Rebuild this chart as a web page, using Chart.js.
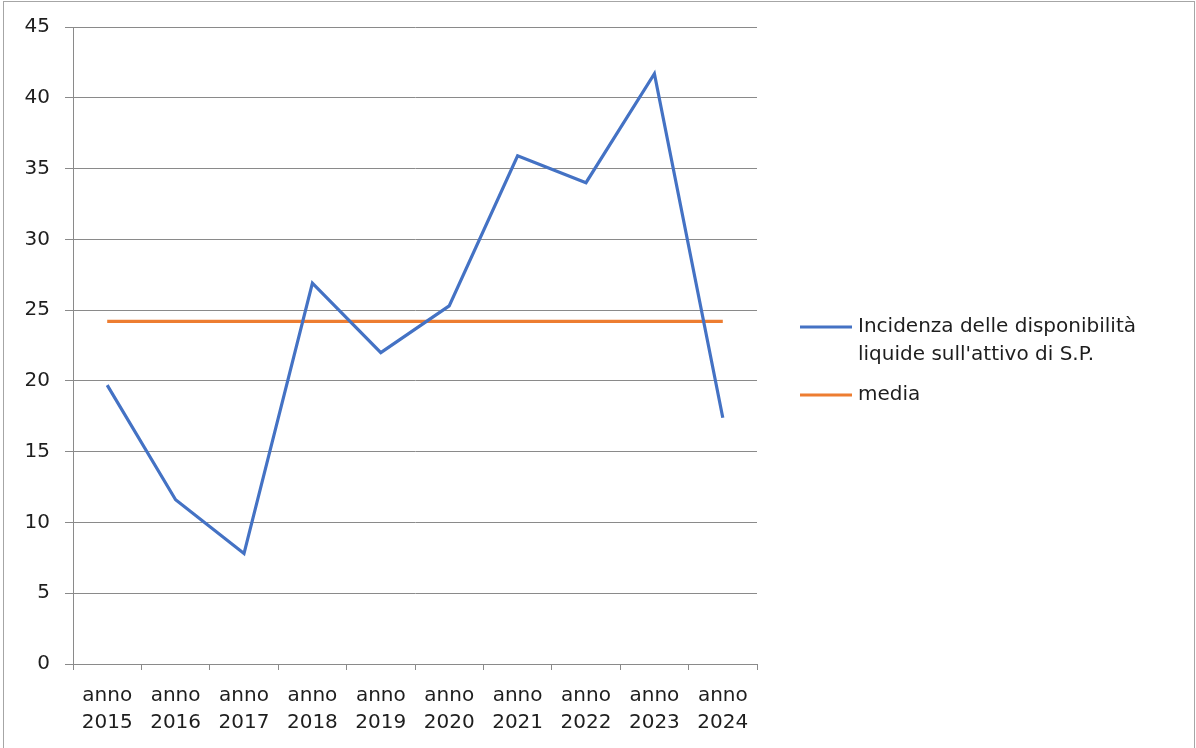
<!DOCTYPE html>
<html>
<head>
<meta charset="utf-8">
<script src="https://cdn.jsdelivr.net/npm/chart.js@4"></script>
<style>
  html, body { margin: 0; padding: 0; background: #fff; }
  #wrap { width: 1196px; height: 748px; position: relative; }
</style>
</head>
<body>
<div id="wrap"><canvas id="grafico"></canvas></div>
<script>
// dati
const anni = ['2015', '2016', '2017', '2018', '2019', '2020', '2021', '2022', '2023', '2024']
const incidenza = [19.7, 11.6, 7.8, 26.9, 22.0, 25.3, 35.9, 34.0, 41.7, 17.4]
const media = [24.2, 24.2, 24.2, 24.2, 24.2, 24.2, 24.2, 24.2, 24.2, 24.2]
const yTicks = [0, 5, 10, 15, 20, 25, 30, 35, 40, 45]

const FONT = '"DejaVu Sans", sans-serif'
const GRIGIO = '#8a8a8a'
const TESTO = '#1e1e1e'

// bordo esterno + legenda disegnata a mano (etichette su più righe)
const cornice = {
  id: 'cornice',
  beforeDraw(chart) {
    const ctx = chart.ctx
    ctx.save()
    ctx.fillStyle = '#fff'
    ctx.fillRect(0, 0, chart.width, chart.height)
    ctx.strokeStyle = '#a6a6a6'
    ctx.lineWidth = 1
    ctx.strokeRect(3.5, 1.5, chart.width - 5, chart.height + 5)
    ctx.restore()
  },
  afterDraw(chart) {
    const ctx = chart.ctx
    const area = chart.chartArea
    const x0 = area.right + 43
    let y = area.top + 300
    ctx.save()
    ctx.font = '20px ' + FONT
    ctx.textBaseline = 'middle'
    chart.data.datasets.forEach(ds => {
      let lines = wrap(ctx, ds.label, 320)
      ctx.strokeStyle = ds.borderColor
      ctx.lineWidth = 3
      ctx.beginPath()
      ctx.moveTo(x0, y)
      ctx.lineTo(x0 + 52, y)
      ctx.stroke()
      ctx.fillStyle = TESTO
      lines.forEach((l, i) => ctx.fillText(l, x0 + 58, y + i * 28))
      y += lines.length * 28 + 12
    })
    ctx.restore()
  }
}

function wrap(ctx, text, maxW) {
  let words = text.split(' ')
  let lines = []
  let cur = ''
  words.forEach(w => {
    let test = cur ? cur + ' ' + w : w
    if (ctx.measureText(test).width > maxW && cur) {
      lines.push(cur)
      cur = w
    } else {
      cur = test
    }
  })
  if (cur) lines.push(cur)
  return lines
}

new Chart(document.getElementById('grafico'), {
  type: 'line',
  data: {
    labels: anni.map(a => ['anno', a]),
    datasets: [{
      label: "Incidenza delle disponibilità liquide sull'attivo di S.P.",
      data: incidenza,
      borderColor: '#4472c4',
      borderWidth: 3.2,
      pointRadius: 0,
      tension: 0
    }, {
      label: 'media',
      data: media,
      borderColor: '#ed7d31',
      borderWidth: 3.2,
      pointRadius: 0,
      tension: 0
    }]
  },
  options: {
    responsive: true,
    maintainAspectRatio: false,
    animation: false,
    layout: { padding: { left: 0, top: 27, right: 439, bottom: 0 } },
    plugins: {
      legend: { display: false },
      tooltip: { enabled: false }
    },
    scales: {
      x: {
        offset: true,
        afterFit: s => { s.height = 84 },
        grid: { display: true, drawOnChartArea: false, offset: true, tickLength: 6, color: GRIGIO },
        border: { display: true, color: GRIGIO },
        ticks: {
          color: TESTO,
          padding: 12,
          maxRotation: 0,
          autoSkip: false,
          font: { family: FONT, size: 20, lineHeight: 1.35 }
        }
      },
      y: {
        min: 0,
        max: 45,
        afterFit: s => { s.width = 73 },
        afterBuildTicks: s => { s.ticks = yTicks.map(v => ({ value: v })) },
        grid: { color: GRIGIO, tickLength: 8 },
        border: { display: true, color: GRIGIO },
        ticks: {
          color: TESTO,
          padding: 15,
          font: { family: FONT, size: 20 }
        }
      }
    }
  },
  plugins: [cornice]
})
</script>
</body>
</html>
